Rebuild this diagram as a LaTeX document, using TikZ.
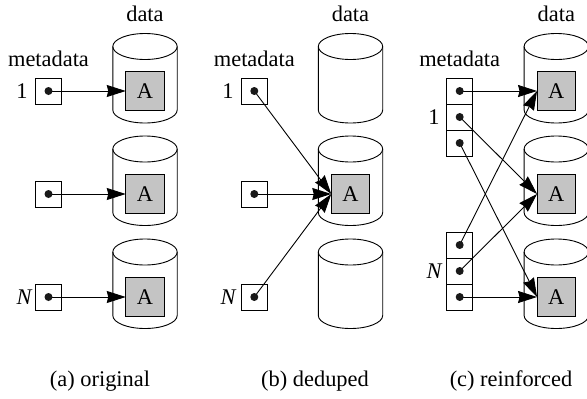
\documentclass[tikz,border=0pt]{standalone}
\usepackage{fontspec}
\setmainfont{Liberation Serif}
\usetikzlibrary{arrows.meta}
\tikzset{
  x=1pt,y=-1pt,
  every node/.style={font=\fontsize{22.4}{26}\selectfont,inner sep=0pt,outer sep=0pt},
  txt/.style={anchor=base,text=black},
  slot/.style={draw=black,line width=0.9pt,minimum size=26pt},
  block/.style={draw=black,line width=1pt,fill=black!23,minimum size=38.5pt},
  link/.style={line width=0.9pt,-{Stealth[length=19pt,width=12pt,inset=1.5pt]}},
  pin/.style={fill=black!90,draw=none},
  drum/.pic={
    \draw[line width=0.9pt] (-32.2,13) -- (-32.2,76.5) arc[start angle=180,end angle=360,x radius=32.2,y radius=-13] -- (32.2,13);
    \draw[line width=0.9pt] (0,13) ellipse[x radius=32.2,y radius=13];
  }
}
\begin{document}
\begin{tikzpicture}
\useasboundingbox (0,0) rectangle (587,399);
% panel a
\pic at (145,33.5) {drum};
\pic at (145,136) {drum};
\pic at (145,239) {drum};
\node[block] (a1) at (145,91) {A};
\node[block] (a2) at (145,194) {A};
\node[block] (a3) at (145,297) {A};
\node[slot] (as1) at (48.5,91) {};
\node[slot] (as2) at (48.5,194) {};
\node[slot] (as3) at (48.5,297) {};
\draw[link] (as1.center) -- (a1.west);
\draw[link] (as2.center) -- (a2.west);
\draw[link] (as3.center) -- (a3.west);
\foreach \n in {as1,as2,as3} \fill[pin] (\n.center) circle (4);
\node[txt] (ad) at (145,21) {data};
\node[txt] (am) at (48.5,66) {metadata};
\node[txt] (al1) at (22,98) {1};
\node[txt] (alN) at (24,304) {\itshape N};
\node[txt] (ac) at (100,386.5) {(a) original};
% panel b
\pic at (350.5,33.5) {drum};
\pic at (350.5,136) {drum};
\pic at (350.5,239) {drum};
\node[block] (b2) at (350.5,194) {A};
\node[slot] (bs1) at (254.3,91) {};
\node[slot] (bs2) at (254.3,194) {};
\node[slot] (bs3) at (254.3,297) {};
\draw[link] (bs1.center) -- (b2.west);
\draw[link] (bs2.center) -- (b2.west);
\draw[link] (bs3.center) -- (b2.west);
\foreach \n in {bs1,bs2,bs3} \fill[pin] (\n.center) circle (4);
\node[txt] (bd) at (350.5,21) {data};
\node[txt] (bm) at (254.3,66) {metadata};
\node[txt] (bl1) at (228,98) {1};
\node[txt] (blN) at (228,304) {\itshape N};
\node[txt] (bc) at (315,386.5) {(b) deduped};
% panel c
\pic at (556.3,33.5) {drum};
\pic at (556.3,136) {drum};
\pic at (556.3,239) {drum};
\node[block] (c1) at (556.3,91) {A};
\node[block] (c2) at (556.3,194) {A};
\node[block] (c3) at (556.3,297) {A};
\node[slot] (cs1) at (459.7,91) {};
\node[slot] (cs2) at (459.7,117) {};
\node[slot] (cs3) at (459.7,143) {};
\node[slot] (cs4) at (459.7,245) {};
\node[slot] (cs5) at (459.7,271) {};
\node[slot] (cs6) at (459.7,297) {};
\draw[link] (cs1.center) -- (c1.west);
\draw[link] (cs2.center) -- (c2.west);
\draw[link] (cs3.center) -- (c3.west);
\draw[link] (cs4.center) -- (c1.west);
\draw[link] (cs5.center) -- (c2.west);
\draw[link] (cs6.center) -- (c3.west);
\foreach \n in {cs1,cs2,cs3,cs4,cs5,cs6} \fill[pin] (\n.center) circle (4);
\node[txt] (cd) at (556.3,21) {data};
\node[txt] (cm) at (459.7,66) {metadata};
\node[txt] (cl1) at (434,124) {1};
\node[txt] (clN) at (434,278) {\itshape N};
\node[txt] (cc) at (511,386.5) {(c) reinforced};
\end{tikzpicture}
\end{document}
